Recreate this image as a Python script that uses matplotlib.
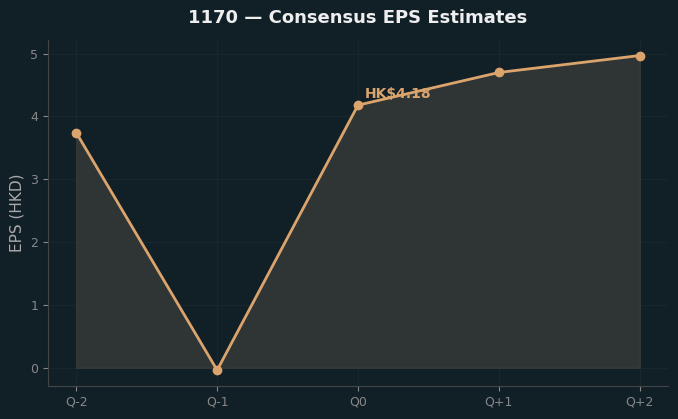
import matplotlib.pyplot as plt

quarters = ["Q-2", "Q-1", "Q0", "Q+1", "Q+2"]
eps = [3.74, -0.04, 4.18, 4.70, 4.97]
current_label = "HK$4.18"

bg = "#111f27"
line_col = "#dba46c"

fig = plt.figure(figsize=(6.78, 4.19), dpi=100, facecolor=bg)
ax = fig.add_axes([0.071, 0.079, 0.914, 0.826], facecolor=bg)

x = range(len(quarters))
ax.fill_between(x, eps, 0, color="#2f3434", edgecolor="#373b39", linewidth=1)
ax.plot(x, eps, color=line_col, linewidth=2, marker="o", markersize=6)

ax.annotate(current_label, (2, eps[2]), xytext=(5, 5), textcoords="offset points",
            color=line_col, fontsize=10, fontweight="bold")

ax.set_xticks(list(x))
ax.set_xticklabels(quarters)
ax.set_title("1170 — Consensus EPS Estimates", color="#eeeeee", fontsize=13,
             fontweight="bold", pad=12)
ax.set_ylabel("EPS (HKD)", color="#aaaaaa", fontsize=11)

ax.tick_params(colors="#888888", labelsize=9)
ax.grid(True, color="#18272e", linewidth=0.8)
ax.set_axisbelow(True)
for s in ["top", "right"]:
    ax.spines[s].set_visible(False)
for s in ["left", "bottom"]:
    ax.spines[s].set_color("#444444")

fig.savefig("out.png", dpi=100, facecolor=bg)
